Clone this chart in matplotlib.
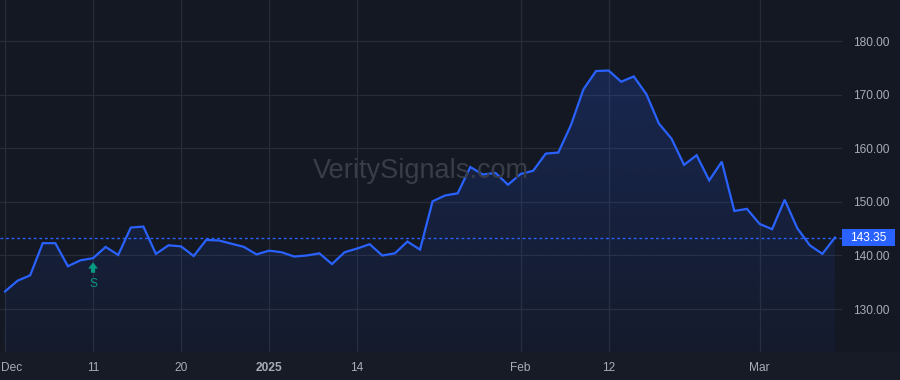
"""
Price chart, dark theme (Dec 2024 - Mar 2025)
"""

import numpy as np
import matplotlib
matplotlib.use("Agg")
import matplotlib.pyplot as plt
from matplotlib.colors import to_rgb
from matplotlib.patches import Rectangle
from matplotlib.transforms import ScaledTranslation, offset_copy, blended_transform_factory

# ===================== data =====================
# one value per trading day, 2 Dec 2024 .. 11 Mar 2025
closes = [
    133.3, 135.3, 136.3, 142.3, 142.3, 138.0, 139.1, 139.5, 141.6, 140.1,
    145.2, 145.4, 140.3, 141.9, 141.7, 139.9, 142.9, 142.8, 142.2, 141.6,
    140.2, 140.9, 140.6, 139.8, 140.0, 140.4, 138.4, 140.6, 141.3, 142.1,
    140.0, 140.4, 142.6, 141.1, 150.1, 151.2, 151.6, 156.5, 155.1, 155.4,
    153.2, 155.2, 155.8, 159.0, 159.2, 164.3, 171.0, 174.4, 174.5, 172.4,
    173.4, 170.1, 164.6, 161.8, 156.9, 158.7, 154.0, 157.5, 148.3, 148.7,
    145.9, 144.9, 150.4, 145.1, 141.9, 140.3, 143.35,
]
last_price = 143.35
signal_idx = 7          # "S" marker (11 Dec)

tick_idx = [0, 7, 14, 21, 28, 41, 48, 60]
tick_labels = ["Dec", "11", "20", "2025", "14", "Feb", "12", "Mar"]
bold_labels = ["2025"]
price_ticks = [130, 140, 150, 160, 170, 180]

# ===================== style =====================
BG = "#141823"
BOTTOM_BG = "#171b26"
GRID = "#282c37"
TEXT = "#a9acb5"
BLUE = "#2962ff"
GREEN = "#089981"
FONT = ["Liberation Sans", "DejaVu Sans"]
FS = 8.6

plt.rcParams["font.family"] = FONT

fig = plt.figure(figsize=(9, 3.8), dpi=100, facecolor=BG)
fig.patches.append(Rectangle((0, 0), 1, 28 / 380, transform=fig.transFigure,
                             facecolor=BOTTOM_BG, edgecolor="none", zorder=-5))
ax = fig.add_axes([0, 28 / 380, 842 / 900, 352 / 380])
ax.set_facecolor(BG)

x = np.arange(len(closes))
y = np.array(closes)
ymin, ymax = 122.0, 187.65
xmin, xmax = -0.4, len(closes) - 1 + 0.56

# gradient fill under the line
poly = ax.fill_between(x, y, ymin, facecolor="none", edgecolor="none")
grad = np.zeros((256, 1, 4))
grad[..., :3] = to_rgb(BLUE)
grad[..., 3] = np.linspace(0.04, 0.21, 256)[:, None]
im = ax.imshow(grad, extent=[x[0], x[-1], ymin, y.max()], origin="lower",
               aspect="auto", zorder=1, interpolation="bilinear")
im.set_clip_path(poly.get_paths()[0], transform=ax.transData)

ax.plot(x, y, color=BLUE, linewidth=1.6, zorder=3, solid_joinstyle="miter")
ax.axhline(last_price, color=BLUE, linestyle=(0, (2, 2)), linewidth=1.0, zorder=2)

ax.set_xlim(xmin, xmax)
ax.set_ylim(ymin, ymax)

# grid + ticks
ax.set_xticks(tick_idx)
ax.set_xticklabels(tick_labels)
ax.set_yticks(price_ticks)
ax.set_yticklabels([f"{v:.2f}" for v in price_ticks])
ax.yaxis.tick_right()
ax.grid(True, color=GRID, linewidth=0.9, zorder=0)
ax.set_axisbelow(True)
ax.tick_params(axis="both", length=0, colors=TEXT, labelsize=FS)
ax.tick_params(axis="x", pad=7)
ax.tick_params(axis="y", pad=8)
for lab in ax.get_yticklabels():
    lab.set_horizontalalignment("left")
for lab in ax.get_xticklabels():
    if lab.get_text() in bold_labels:
        lab.set_fontweight("bold")
dec = ax.get_xticklabels()[0]
dec.set_horizontalalignment("left")
dec.set_transform(dec.get_transform() + ScaledTranslation(-4 / 100, 0, fig.dpi_scale_trans))
for s in ax.spines.values():
    s.set_visible(False)

# last price label on the price scale
px_per_unit = 352 / (ymax - ymin)
box_h = 17 / px_per_unit
btr = blended_transform_factory(ax.transAxes, ax.transData)
box = Rectangle((1.0, last_price - box_h / 2), 53 / 842, box_h, transform=btr,
                facecolor=BLUE, edgecolor="none", zorder=6, clip_on=False)
ax.add_patch(box)
ax.text(1.0 + 26.5 / 842, last_price, f"{last_price:.2f}", transform=btr,
        ha="center", va="center", color="white", fontsize=FS, zorder=7, clip_on=False)

# signal marker
tr = offset_copy(ax.transData, fig=fig, y=-3, units="points")
ax.annotate("", xy=(signal_idx, closes[signal_idx]), xycoords=tr,
            xytext=(0, -7.5), textcoords="offset points",
            arrowprops=dict(arrowstyle="simple,head_width=0.7,head_length=0.45,tail_width=0.3",
                            color=GREEN, shrinkA=0, shrinkB=0, linewidth=0))
ax.annotate("S", xy=(signal_idx, closes[signal_idx]), xytext=(0, -18.5),
            textcoords="offset points", ha="center", va="center",
            color=GREEN, fontsize=FS)

# watermark
fig.text(0.468, 1 - 171 / 380, "VeritySignals.com", ha="center", va="center",
         fontsize=19.5, color="#393d48", zorder=0)

fig.savefig("out.png", dpi=100, facecolor=BG)
